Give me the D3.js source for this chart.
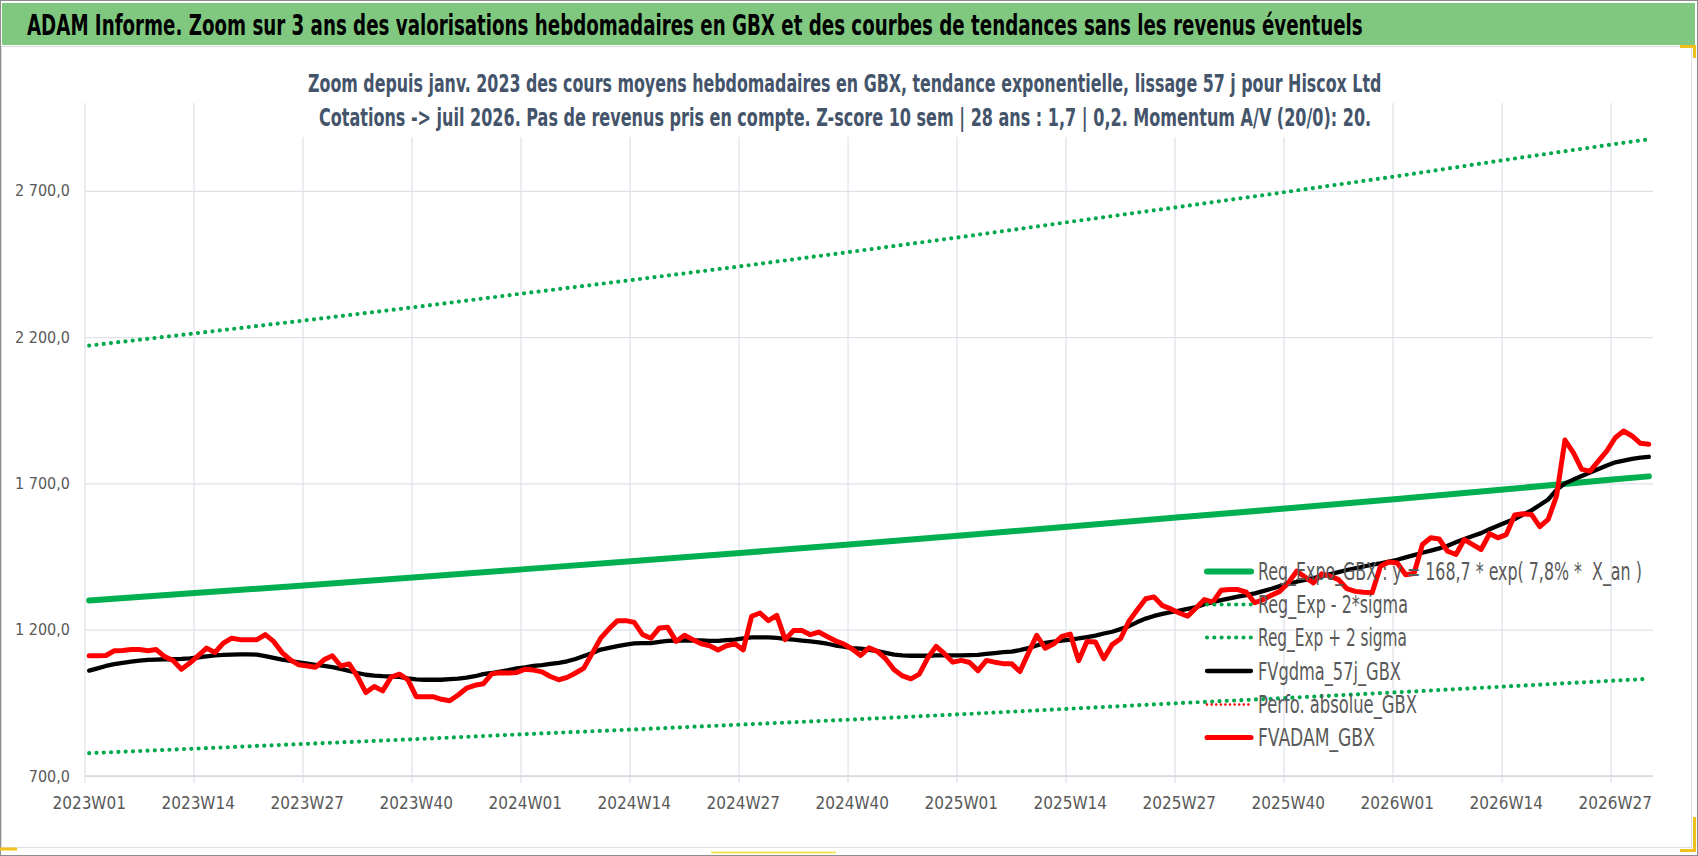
<!DOCTYPE html>
<html>
<head>
    <meta charset="utf-8">
    <title>ADAM Informe - Hiscox Ltd</title>

    <script src="https://cdn.jsdelivr.net/npm/d3@7"></script>

    <style>
        html,
        body {
            margin: 0;
            padding: 0;
            background-color: #fff;
        }

        svg text {
            font-family: "Liberation Sans Narrow", "DejaVu Sans Condensed", "Liberation Sans", Arial, sans-serif;
        }

        svg .grid line {
            stroke: #dde1e8;
            stroke-width: 1.2;
        }

        svg .tick-label {
            font-size: 16px;
            fill: #595959;
        }

        svg .legend text {
            font-size: 25px;
            fill: #595959;
            white-space: pre;
        }
    </style>
</head>
<body>
    <svg id="chart"></svg>

    <script>
        // ---- data ----

        // weekly categories, 2023W01 .. 2026W31
        var weeks = [];
        [[2023, 52], [2024, 52], [2025, 52], [2026, 31]].forEach(function (yn) {
            for (var k = 1; k <= yn[1]; k++) {
                weeks.push(yn[0] + 'W' + (k < 10 ? '0' + k : k));
            }
        });

        var tickWeeks = ['2023W01', '2023W14', '2023W27', '2023W40',
                         '2024W01', '2024W14', '2024W27', '2024W40',
                         '2025W01', '2025W14', '2025W27', '2025W40',
                         '2026W01', '2026W14', '2026W27'];

        var yTicks = [700, 1200, 1700, 2200, 2700];

        // FVADAM_GBX (red), one value per week
        var fvAdam = [
            1111, 1111, 1112, 1128, 1129, 1132, 1132, 1128, 1132, 1108,
            1095, 1065, 1086, 1111, 1137, 1122, 1154, 1171, 1166, 1166,
            1166, 1183, 1160, 1122, 1097, 1080, 1076, 1072, 1097, 1111,
            1076, 1083, 1040,  985, 1006,  991, 1038, 1048, 1029,  971,
             971,  971,  962,  957,  977, 1000, 1010, 1015, 1049, 1053,
            1052, 1054, 1065, 1062, 1056, 1040, 1029, 1037, 1052, 1069,
            1120, 1171, 1203, 1231, 1231, 1225, 1183, 1171, 1206, 1208,
            1160, 1181, 1166, 1152, 1145, 1131, 1145, 1152, 1131, 1246,
            1257, 1231, 1249, 1166, 1197, 1197, 1183, 1192, 1177, 1162,
            1151, 1134, 1112, 1138, 1126, 1100, 1063, 1042, 1032, 1048,
            1103, 1143, 1118, 1089, 1095, 1088, 1060, 1095, 1089, 1084,
            1084, 1057, 1120, 1181, 1137, 1151, 1177, 1185, 1094, 1160,
            1158, 1101, 1149, 1169, 1229, 1268, 1306, 1312, 1282, 1271,
            1257, 1246, 1274, 1303, 1294, 1335, 1337, 1337, 1328, 1292,
            1303, 1318, 1331, 1360, 1400, 1380, 1360, 1391, 1383, 1371,
            1340, 1331, 1328, 1326, 1417, 1431, 1428, 1388, 1392, 1491,
            1514, 1510, 1468, 1457, 1508, 1491, 1474, 1528, 1514, 1525,
            1592, 1596, 1594, 1552, 1577, 1657, 1848, 1805, 1748, 1742,
            1777, 1811, 1856, 1879, 1862, 1837, 1834
        ];

        // FVgdma_57j_GBX (black), one value per week
        var fvGdma = [
            1060, 1068, 1076, 1082, 1087, 1091, 1094, 1097, 1098, 1099,
            1099, 1100, 1102, 1105, 1109, 1112, 1114, 1115, 1116, 1116,
            1115, 1110, 1104, 1098, 1093, 1088, 1084, 1080, 1076, 1072,
            1066, 1059, 1052, 1046, 1043, 1041, 1040, 1039, 1034, 1030,
            1029, 1029, 1029, 1031, 1033, 1036, 1041, 1048, 1052, 1057,
            1062, 1068, 1071, 1076, 1079, 1083, 1087, 1092, 1100, 1110,
            1120, 1132, 1138, 1144, 1149, 1153, 1154, 1154, 1158, 1162,
            1163, 1163, 1163, 1163, 1162, 1162, 1164, 1166, 1170, 1174,
            1174, 1174, 1172, 1169, 1166, 1163, 1160, 1157, 1152, 1146,
            1142, 1137, 1135, 1131, 1127, 1121, 1115, 1112, 1111, 1111,
            1111, 1112, 1112, 1112, 1112, 1113, 1114, 1117, 1120, 1123,
            1125, 1130, 1137, 1146, 1155, 1159, 1163, 1166, 1170, 1175,
            1180, 1187, 1193, 1202, 1212, 1226, 1238, 1247, 1254, 1260,
            1265, 1271, 1277, 1287, 1294, 1301, 1307, 1313, 1318, 1324,
            1332, 1340, 1349, 1356, 1364, 1370, 1376, 1383, 1390, 1397,
            1404, 1410, 1416, 1422, 1427, 1433, 1439, 1447, 1455, 1463,
            1470, 1478, 1487, 1499, 1510, 1520, 1530, 1543, 1555, 1567,
            1578, 1593, 1608, 1626, 1645, 1678, 1700, 1713, 1725, 1737,
            1749, 1761, 1772, 1778, 1784, 1788, 1791
        ];

        // exponential trend and its 2 sigma band, read at the labelled weeks
        var trendWeeks = tickWeeks.concat(['2026W31']);
        var regExpo  = [1300, 1326, 1352, 1379, 1407, 1435, 1463, 1492, 1522, 1553, 1584, 1615, 1647, 1680, 1714, 1724];
        var regPlus  = [2171, 2214, 2258, 2303, 2350, 2396, 2443, 2492, 2542, 2594, 2645, 2697, 2750, 2806, 2860, 2876];
        var regMinus = [ 778,  794,  810,  826,  843,  859,  876,  893,  911,  930,  949,  967,  986, 1006, 1026, 1032];

        var legendLabels = [
            'Reg_Expo_GBX : y = 168,7 * exp( 7,8% *  X_an )',
            'Reg_Exp - 2*sigma',
            'Reg_Exp + 2 sigma',
            'FVgdma_57j_GBX',
            'Perfo. absolue_GBX',
            'FVADAM_GBX'
        ];

        var title = 'ADAM Informe. Zoom sur 3 ans des valorisations hebdomadaires en GBX et des courbes de tendances sans les revenus éventuels';
        var subTitles = [
            'Zoom depuis janv. 2023 des cours moyens hebdomadaires en GBX, tendance exponentielle, lissage 57 j pour Hiscox Ltd',
            'Cotations -> juil 2026. Pas de revenus pris en compte. Z-score 10 sem | 28 ans : 1,7 | 0,2. Momentum A/V (20/0): 20.'
        ];

        // ---- drawing ----
        (function () {
            var w = 1698,
                h = 856,
                left = 85, right = 1653, top = 103, bottom = 776;

            var svg = d3.select('#chart')
                    .attr('width', w)
                    .attr('height', h)
                    .attr('viewBox', '0 0 ' + w + ' ' + h);

            // squeeze a text horizontally so it spans `width` px from (x, y)
            function fitText(sel, x, y, width) {
                var nat = sel.node().getComputedTextLength() || width;
                sel.attr('x', 0).attr('y', 0)
                   .attr('transform', 'translate(' + x + ',' + y + ')scale(' + (width / nat) + ',1)');
            }

            // frame, chart area border, title band
            svg.append('rect')
                .attr('x', 0.5).attr('y', 0.5).attr('width', w - 1).attr('height', h - 1)
                .style('fill', '#fff').style('stroke', '#8c8c8c');
            svg.append('rect')
                .attr('x', 1.5).attr('y', 46.5).attr('width', 1690).attr('height', 801)
                .style('fill', 'none').style('stroke', '#dcdfe3');
            svg.append('rect')
                .attr('x', 2).attr('y', 3).attr('width', 1693).attr('height', 42)
                .style('fill', '#80c880');

            // selection handles left on the screenshot
            var hl = svg.append('g').style('fill', 'none').style('stroke', '#f2c01c').style('stroke-width', 3);
            hl.append('path').attr('d', 'M1680,46.5H1694.5V58');
            hl.append('path').attr('d', 'M1694.5,817V850.5H1680');
            hl.append('path').attr('d', 'M0,849H17');
            svg.append('line')
                .attr('x1', 711).attr('x2', 836).attr('y1', 852.5).attr('y2', 852.5)
                .style('stroke', '#f7e35a').style('stroke-width', 2);

            var tt = svg.append('text')
                .style('font-size', '29px').style('font-weight', 'bold').style('fill', '#000')
                .text(title);
            fitText(tt, 27, 35, 1336);

            var x = d3.scaleBand().domain(weeks).range([left, right]);
            var y = d3.scaleLinear().domain([700, 3000]).range([bottom, top]);

            function cx(wk) { return x(wk) + x.bandwidth() / 2; }

            var fr = d3.formatLocale({ decimal: ',', thousands: ' ', grouping: [3], currency: ['', ''] });

            // horizontal gridlines and y labels
            var ya = svg.append('g')
                    .attr('class', 'grid')
                    .attr('transform', 'translate(' + left + ',0)')
                    .call(d3.axisLeft(y)
                        .tickValues(yTicks)
                        .tickFormat(fr.format(',.1f'))
                        .tickSize(-(right - left))
                        .tickPadding(15));
            ya.select('.domain').remove();
            ya.selectAll('text').attr('class', 'tick-label').attr('fill', null);

            // vertical gridlines at the start of each labelled week + tick marks
            var vg = svg.append('g').attr('class', 'grid');
            vg.selectAll('line')
                .data(tickWeeks)
                .enter().append('line')
                .attr('x1', function (d) { return x(d); })
                .attr('x2', function (d) { return x(d); })
                .attr('y1', top)
                .attr('y2', bottom + 7);

            svg.append('line')
                .attr('x1', left).attr('x2', right).attr('y1', bottom).attr('y2', bottom)
                .style('stroke', '#d5d9e0').style('stroke-width', 1.6);

            // x labels
            var xa = svg.append('g')
                    .attr('transform', 'translate(0,' + bottom + ')')
                    .call(d3.axisBottom(x).tickValues(tickWeeks).tickSize(0).tickPadding(21));
            xa.select('.domain').remove();
            xa.selectAll('text').attr('class', 'tick-label').attr('fill', null).style('font-size', '17px');

            // subtitle box covers the gridlines behind it
            svg.append('rect')
                .attr('x', 298).attr('y', 58).attr('width', 1092).attr('height', 79)
                .style('fill', '#fff');
            var subLayout = [[308, 92, 1074], [319, 126, 1053]];
            subTitles.forEach(function (s, i) {
                var st = svg.append('text')
                    .style('font-size', '24px').style('font-weight', 'bold').style('fill', '#44546a')
                    .text(s);
                fitText(st, subLayout[i][0], subLayout[i][1], subLayout[i][2]);
            });

            // series
            var weekly = d3.line()
                    .x(function (d) { return cx(d.week); })
                    .y(function (d) { return y(d.v); });

            function pairs(ws, vs) {
                return ws.map(function (wk, i) { return { week: wk, v: vs[i] }; });
            }

            var styles = [
                { color: '#00b050', width: 6,   dash: null,    cap: 'round' },
                { color: '#00a84c', width: 4.2, dash: '0 7.3', cap: 'round' },
                { color: '#00a84c', width: 4.2, dash: '0 7.3', cap: 'round' },
                { color: '#000000', width: 4.3, dash: null,    cap: 'round' },
                { color: '#ff0000', width: 2.6, dash: '0 4.6', cap: 'round' },
                { color: '#ff0000', width: 5,   dash: null,    cap: 'round' }
            ];

            var series = [
                pairs(trendWeeks, regExpo),
                pairs(trendWeeks, regMinus),
                pairs(trendWeeks, regPlus),
                pairs(weeks, fvGdma),
                null,
                pairs(weeks, fvAdam)
            ];

            series.forEach(function (s, i) {
                if (!s) { return; }
                var st = styles[i];
                svg.append('path')
                    .datum(s)
                    .attr('d', weekly)
                    .style('fill', 'none')
                    .style('stroke', st.color)
                    .style('stroke-width', st.width)
                    .style('stroke-linecap', st.cap)
                    .style('stroke-linejoin', 'round')
                    .style('stroke-dasharray', st.dash);
            });

            // legend, no background, on top of the lines
            var legendBase = [580, 613, 646, 679.5, 713, 746],
                legendTextW = [384, 150, 149, 143, 159, 117];

            var lg = svg.append('g').attr('class', 'legend');
            legendLabels.forEach(function (lab, i) {
                var st = styles[i],
                    ly = legendBase[i] - 8.5;
                lg.append('line')
                    .attr('x1', 1207).attr('x2', 1251).attr('y1', ly).attr('y2', ly)
                    .style('stroke', st.color)
                    .style('stroke-width', st.width)
                    .style('stroke-linecap', st.cap)
                    .style('stroke-dasharray', st.dash);
                var lt = lg.append('text').text(lab);
                fitText(lt, 1258, legendBase[i], legendTextW[i]);
            });
        })();
    </script>
</body>
</html>
